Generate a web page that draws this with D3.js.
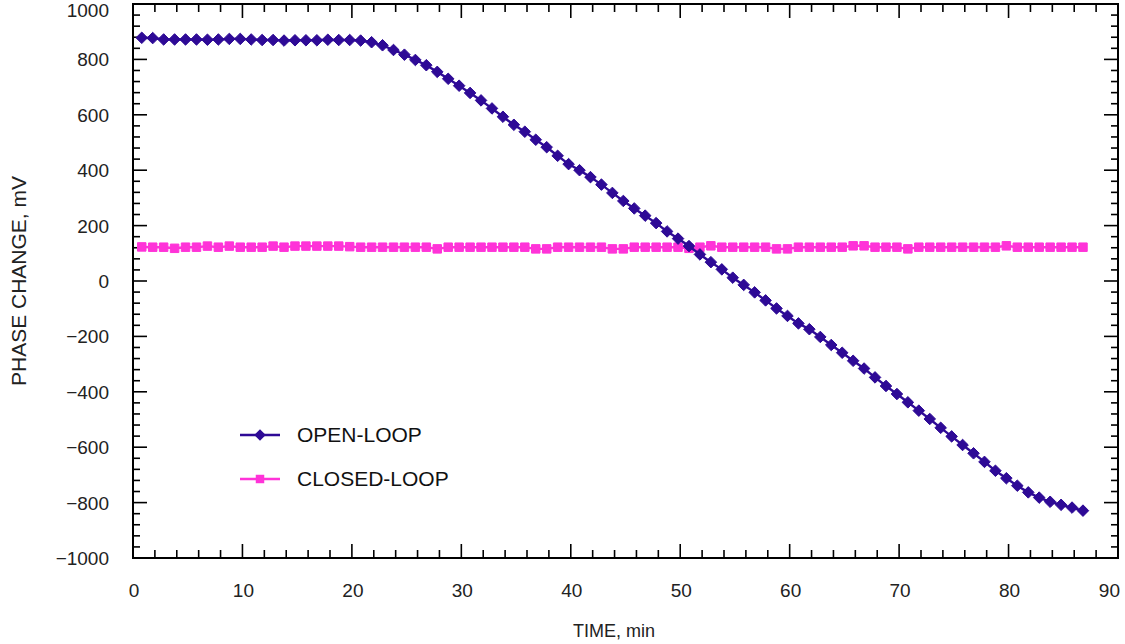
<!DOCTYPE html>
<html>
<head>
<meta charset="utf-8">
<script src="https://cdn.jsdelivr.net/npm/d3@7"></script>
<style>
  body { margin: 0; background: #fff; }
  svg { display: block; font-family: "Liberation Sans", Arial, sans-serif; }
</style>
</head>
<body>
<div id="chart"></div>
<script>
// minutes
const time = [
  0.8, 1.8, 2.8, 3.8, 4.8, 5.8, 6.8, 7.8, 8.8, 9.8,
  10.8, 11.8, 12.8, 13.8, 14.8, 15.8, 16.8, 17.8, 18.8, 19.8,
  20.8, 21.8, 22.8, 23.8, 24.8, 25.8, 26.8, 27.8, 28.8, 29.8,
  30.8, 31.8, 32.8, 33.8, 34.8, 35.8, 36.8, 37.8, 38.8, 39.8,
  40.8, 41.8, 42.8, 43.8, 44.8, 45.8, 46.8, 47.8, 48.8, 49.8,
  50.8, 51.8, 52.8, 53.8, 54.8, 55.8, 56.8, 57.8, 58.8, 59.8,
  60.8, 61.8, 62.8, 63.8, 64.8, 65.8, 66.8, 67.8, 68.8, 69.8,
  70.8, 71.8, 72.8, 73.8, 74.8, 75.8, 76.8, 77.8, 78.8, 79.8,
  80.8, 81.8, 82.8, 83.8, 84.8, 85.8, 86.8
];

// mV
const openLoop = [
  878, 877, 872, 872, 872, 872, 871, 872, 874, 874,
  872, 870, 870, 868, 869, 869, 869, 871, 870, 870,
  868, 862, 851, 834, 817, 798, 779, 755, 730, 705,
  679, 652, 623, 593, 564, 539, 510, 483, 452, 422,
  400, 375, 348, 318, 289, 262, 236, 209, 179, 153,
  126, 96, 68, 42, 12, -14, -41, -70, -99, -126,
  -153, -174, -202, -231, -259, -288, -316, -348, -379, -408,
  -438, -468, -498, -530, -561, -592, -622, -653, -685, -712,
  -739, -763, -782, -797, -808, -818, -829
];

const closedLoop = [
  123, 122, 122, 118, 122, 122, 126, 122, 126, 122,
  122, 122, 126, 122, 126, 126, 126, 126, 126, 124,
  122, 122, 122, 122, 122, 122, 122, 116, 122, 122,
  122, 122, 122, 122, 122, 122, 116, 116, 122, 122,
  122, 122, 122, 116, 116, 122, 122, 122, 122, 122,
  118, 122, 127, 122, 122, 122, 122, 122, 116, 116,
  122, 122, 122, 122, 122, 127, 127, 122, 122, 122,
  116, 122, 122, 122, 122, 122, 122, 122, 122, 127,
  122, 122, 122, 122, 122, 122, 122
];

const xTicks = [0, 10, 20, 30, 40, 50, 60, 70, 80, 90];
const yTicks = [-1000, -800, -600, -400, -200, 0, 200, 400, 600, 800, 1000];
const seriesNames = ["OPEN-LOOP", "CLOSED-LOOP"];

const width = 1125, height = 644;
const margin = { top: 4, right: 7, bottom: 86, left: 133 };

const openColor = "#2e0a96";
const closedColor = "#ff33d8";

const svg = d3.select("#chart").append("svg")
  .attr("width", width)
  .attr("height", height);

const x = d3.scaleLinear().domain([0, 90]).range([margin.left, width - margin.right]);
const y = d3.scaleLinear().domain([-1000, 1000]).range([height - margin.bottom, margin.top]);

const x0 = x(0), x1 = x(90), y0 = y(-1000), y1 = y(1000);

// ticks, all pointing inward
const xMinor = d3.range(0, 91, 2).filter(v => v % 10 !== 0);
const yMinor = d3.range(-1000, 1001, 40).filter(v => v % 200 !== 0);
const tickG = svg.append("g").attr("stroke", "#000").attr("stroke-width", 1.6);

function vTicks(vals, len) {
  vals.forEach(v => {
    tickG.append("line").attr("x1", x(v)).attr("x2", x(v)).attr("y1", y0).attr("y2", y0 - len);
    tickG.append("line").attr("x1", x(v)).attr("x2", x(v)).attr("y1", y1).attr("y2", y1 + len);
  });
}
function hTicks(vals, len) {
  vals.forEach(v => {
    tickG.append("line").attr("y1", y(v)).attr("y2", y(v)).attr("x1", x0).attr("x2", x0 + len);
    tickG.append("line").attr("y1", y(v)).attr("y2", y(v)).attr("x1", x1).attr("x2", x1 - len);
  });
}
vTicks(xTicks, 14);
vTicks(xMinor, 8);
hTicks(yTicks, 14);
hTicks(yMinor, 7);

// frame
svg.append("rect")
  .attr("x", x0).attr("y", y1)
  .attr("width", x1 - x0).attr("height", y0 - y1)
  .attr("fill", "none").attr("stroke", "#000").attr("stroke-width", 2);

// tick labels
const fmt = v => (v < 0 ? "\u2212" + Math.abs(v) : String(v));
svg.append("g").selectAll("text").data(xTicks).join("text")
  .attr("x", d => d === 90 ? x(d) + 2 : x(d) + 1)
  .attr("y", y0 + 39)
  .attr("text-anchor", d => d === 90 ? "end" : "middle")
  .attr("font-size", 19)
  .attr("fill", "#222")
  .text(fmt);

svg.append("g").selectAll("text").data(yTicks).join("text")
  .attr("x", x0 - 24)
  .attr("y", d => Math.max(y(d) + 7, 17))
  .attr("text-anchor", "end")
  .attr("font-size", 19)
  .attr("fill", "#222")
  .text(fmt);

// axis titles
svg.append("text")
  .attr("x", 614).attr("y", 637)
  .attr("text-anchor", "middle")
  .attr("font-size", 18)
  .attr("fill", "#222")
  .text("TIME, min");

svg.append("text")
  .attr("transform", `translate(26,${(y0 + y1) / 2}) rotate(-90)`)
  .attr("text-anchor", "middle")
  .attr("font-size", 21)
  .attr("fill", "#222")
  .text("PHASE CHANGE, mV");

// series
const openData = time.map((t, i) => ({ t, v: openLoop[i] }));
const closedData = time.map((t, i) => ({ t, v: closedLoop[i] }));
const line = d3.line().x(d => x(d.t)).y(d => y(d.v));

const diamond = d3.symbol().type(d3.symbolDiamond2).size(85);
const square = d3.symbol().type(d3.symbolSquare).size(72);

function drawSeries(data, color, sym) {
  const g = svg.append("g");
  g.append("path").datum(data)
    .attr("d", line)
    .attr("fill", "none")
    .attr("stroke", color)
    .attr("stroke-width", 2.4);
  g.selectAll("path.m").data(data).join("path")
    .attr("class", "m")
    .attr("transform", d => `translate(${x(d.t)},${y(d.v)})`)
    .attr("d", sym)
    .attr("fill", color)
    .attr("stroke", color)
    .attr("stroke-width", 1)
    .attr("stroke-linejoin", "round");
}
drawSeries(closedData, closedColor, square);
drawSeries(openData, openColor, diamond);

// legend
const legend = svg.append("g");
const legendItems = [
  { name: seriesNames[0], color: openColor, sym: diamond, yy: 435 },
  { name: seriesNames[1], color: closedColor, sym: square, yy: 479 }
];
legendItems.forEach(it => {
  legend.append("line")
    .attr("x1", 240).attr("x2", 280).attr("y1", it.yy).attr("y2", it.yy)
    .attr("stroke", it.color).attr("stroke-width", 2.5);
  legend.append("path")
    .attr("transform", `translate(260,${it.yy})`)
    .attr("d", it.sym)
    .attr("fill", it.color);
  legend.append("text")
    .attr("x", 297).attr("y", it.yy + 7)
    .attr("font-size", 21)
    .attr("fill", "#111")
    .text(it.name);
});
</script>
</body>
</html>
